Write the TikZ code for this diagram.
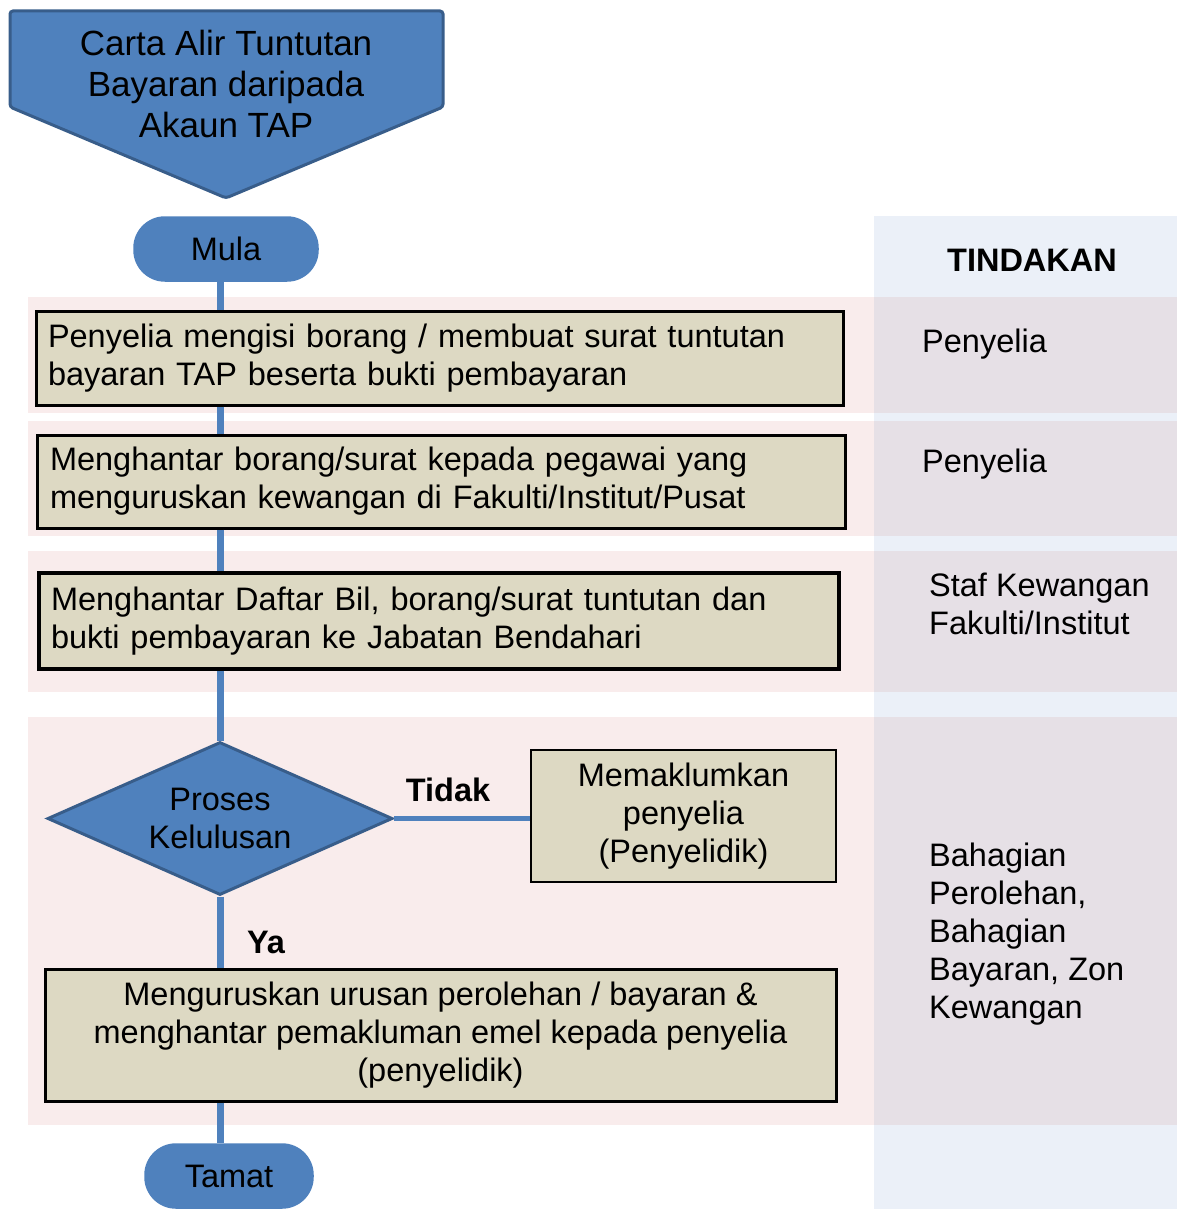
\documentclass[tikz,border=0pt]{standalone}
\usepackage{fontspec}
\setmainfont{Liberation Sans}
\usetikzlibrary{shapes.geometric}
\definecolor{mainblue}{RGB}{79,129,189}
\definecolor{darkblue}{RGB}{56,93,138}
\definecolor{boxfill}{RGB}{221,217,195}
\definecolor{rowpink}{RGB}{249,236,236}
\definecolor{colbg}{RGB}{235,240,248}
\definecolor{rowgray}{RGB}{230,224,230}
\newcommand{\fsmain}{\fontsize{32.5}{38}\selectfont}
\newcommand{\fsbig}{\fontsize{35}{41}\selectfont}
\begin{document}
\begin{tikzpicture}[x=1pt,y=-1pt,
  stepbox/.style={draw=black, line width=3pt, fill=boxfill, inner sep=0pt, font=\fsmain},
  termbox/.style={draw=mainblue, line width=1.5pt, fill=mainblue, rounded corners=31pt, inner sep=0pt, font=\fsmain, minimum height=64pt},
  decision/.style={diamond, draw=darkblue, line width=3pt, fill=mainblue, inner sep=0pt, shape aspect=2.25, minimum width=345pt, minimum height=153pt, font=\fsmain, align=center},
  flow/.style={draw=mainblue, line width=7pt},
  lbl/.style={font=\fsmain, inner sep=0pt, align=left},
  blbl/.style={font=\fsmain\bfseries, inner sep=0pt}
]
\useasboundingbox (0,0) rectangle (1177,1209);
% background column and rows
\fill[colbg] (874,216) rectangle (1177,1209);
\fill[rowpink] (28,297) rectangle (874,413);
\fill[rowgray] (874,297) rectangle (1177,413);
\fill[rowpink] (28,421) rectangle (874,536);
\fill[rowgray] (874,421) rectangle (1177,536);
\fill[rowpink] (28,551) rectangle (874,692);
\fill[rowgray] (874,551) rectangle (1177,692);
\fill[rowpink] (28,717) rectangle (874,1125);
\fill[rowgray] (874,717) rectangle (1177,1125);

% title banner
\draw[draw=darkblue, fill=mainblue, line width=3pt, rounded corners=3pt]
  (10,11) -- (443,11) -- (443,107) -- (226,198) -- (10,107) -- cycle;
\node[font=\fsbig, align=center, inner sep=0pt] (title) at (226,84) {Carta Alir Tuntutan\\Bayaran daripada\\Akaun TAP};

% flow nodes
\node[termbox, minimum width=184pt] (mula) at (226,249) {Mula};
\node[stepbox, minimum width=807pt, minimum height=94pt, text width=783pt, align=left] (b1) at (439.5,358)
  {Penyelia mengisi borang / membuat surat tuntutan\\bayaran TAP beserta bukti pembayaran};
\node[stepbox, minimum width=808pt, minimum height=93pt, text width=782pt, align=left] (b2) at (441,481.5)
  {Menghantar borang/surat kepada pegawai yang\\menguruskan kewangan di Fakulti/Institut/Pusat};
\node[stepbox, line width=3.5pt, minimum width=800pt, minimum height=96pt, text width=776pt, align=left] (b3) at (439,621)
  {Menghantar Daftar Bil, borang/surat tuntutan dan\\bukti pembayaran ke Jabatan Bendahari};
\node[decision] (dia) at (220,818.5) {Proses\\Kelulusan};
\node[stepbox, line width=2.5pt, minimum width=305pt, minimum height=132pt, align=center] (b4) at (683.5,816)
  {Memaklumkan\\penyelia\\(Penyelidik)};
\node[stepbox, minimum width=791pt, minimum height=132pt, align=center] (b5) at (440.5,1035)
  {Menguruskan urusan perolehan / bayaran \&\\menghantar pemakluman emel kepada penyelia\\(penyelidik)};
\node[termbox, minimum width=168pt] (tamat) at (229,1176) {Tamat};

% connectors
\draw[flow] (mula.south -| dia.north) -- (b1.north -| dia.north);
\draw[flow] (b1.south -| dia.north) -- (b2.north -| dia.north);
\draw[flow] (b2.south -| dia.north) -- (b3.north -| dia.north);
\draw[flow] (b3.south -| dia.north) -- (dia.north);
\draw[flow] (dia.south) -- (b5.north -| dia.south);
\draw[flow] (b5.south -| dia.south) -- (tamat.north -| dia.south);
\draw[flow, line width=5pt] (dia.east) -- (dia.east -| b4.west);

% labels
\node[blbl] (tidak) at (448,790) {Tidak};
\node[blbl] (ya) at (266,942) {Ya};

% action column
\node[blbl] (tind) at (1032,260) {TINDAKAN};
\node[lbl, anchor=west] (r1) at (922,344) {Penyelia};
\node[lbl, anchor=west] (r2) at (922,464) {Penyelia};
\node[lbl, anchor=west] (r3) at (929,604) {Staf Kewangan\\Fakulti/Institut};
\node[lbl, anchor=west] (r4) at (929,934) {Bahagian\\Perolehan,\\Bahagian\\Bayaran, Zon\\Kewangan};
\end{tikzpicture}
\end{document}
